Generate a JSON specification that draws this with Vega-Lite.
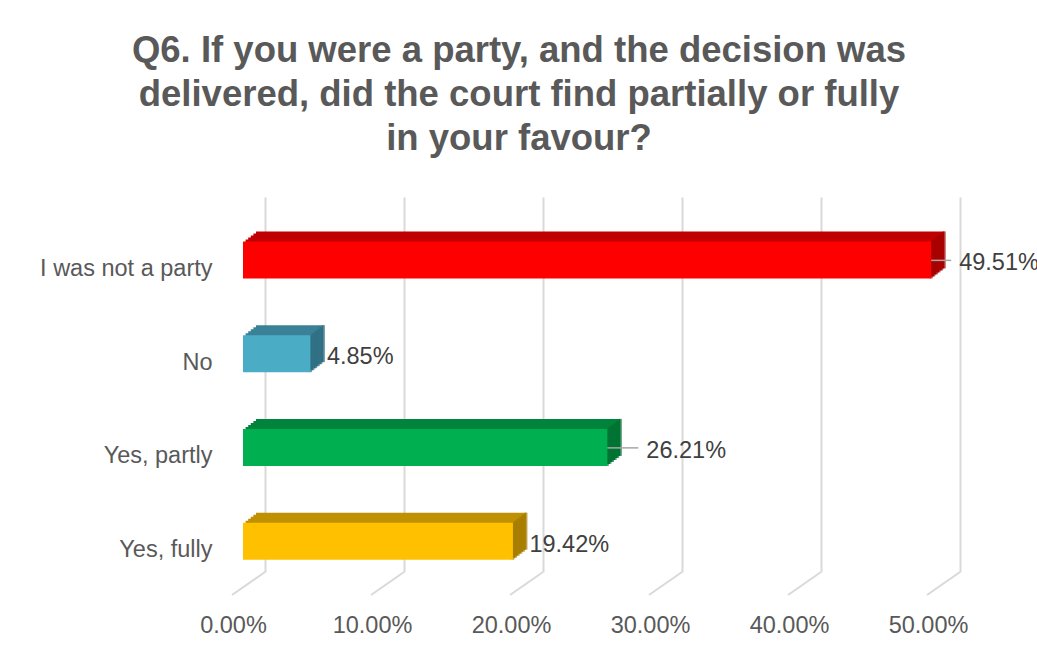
{
  "$schema": "https://vega.github.io/schema/vega-lite/v6.json",
  "width": 695,
  "height": 375,
  "autosize": {"type": "none"},
  "padding": {"left": 265, "top": 197, "right": 77, "bottom": 82},
  "background": "white",
  "config": {"view": {"stroke": null}, "font": "Liberation Sans"},
  "title": {
    "text": ["Q6. If you were a party, and the decision was", "delivered, did the court find partially or fully", "in your favour?"],
    "font": "Liberation Sans",
    "fontSize": 36.5,
    "fontWeight": "bold",
    "color": "#595959",
    "lineHeight": 44,
    "anchor": "middle",
    "offset": 40,
    "dx": -93.5
  },
  "datasets": {
    "answers": [
      {"category": "I was not a party", "value": 0.4951},
      {"category": "No", "value": 0.0485},
      {"category": "Yes, partly", "value": 0.2621},
      {"category": "Yes, fully", "value": 0.1942}
    ],
    "ticks": [{"v": 0}, {"v": 0.1}, {"v": 0.2}, {"v": 0.3}, {"v": 0.4}, {"v": 0.5}]
  },
  "layer": [
    {
      "data": {"name": "ticks"},
      "mark": {"type": "rule", "y2Offset": 23, "x2Offset": -33, "color": "#d9d9d9", "strokeWidth": 2},
      "encoding": {
        "x": {
          "field": "v", "type": "quantitative",
          "scale": {"domain": [0, 0.5], "nice": false},
          "axis": {"title": null, "values": [0, 0.1, 0.2, 0.3, 0.4, 0.5], "format": ".2%", "domain": false, "ticks": false, "grid": true, "gridColor": "#d9d9d9", "gridWidth": 2, "labelFontSize": 23.5, "labelColor": "#595959", "labelOffset": -32, "labelPadding": 41, "labelFlush": false, "labelOverlap": false, "labelFont": "Liberation Sans"}
        },
        "x2": {"field": "v"},
        "y": {"value": "height"},
        "y2": {"value": "height"}
      }
    },
    {
      "data": {"name": "answers"},
      "encoding": {
        "y": {
          "field": "category", "type": "nominal", "sort": null,
          "scale": {"paddingInner": 0, "paddingOuter": 0},
          "axis": {"title": null, "domain": false, "ticks": false, "labelFontSize": 23.5, "labelColor": "#595959", "labelPadding": 53, "labelOffset": 25, "labelLimit": 300, "labelFont": "Liberation Sans"}
        },
        "x": {
          "field": "value", "type": "quantitative",
          "scale": {"domain": [0, 0.5], "nice": false},
          "axis": {"title": null, "values": [0, 0.1, 0.2, 0.3, 0.4, 0.5], "format": ".2%", "domain": false, "ticks": false, "grid": true, "gridColor": "#d9d9d9", "gridWidth": 2, "labelFontSize": 23.5, "labelColor": "#595959", "labelOffset": -32, "labelPadding": 41, "labelFlush": false, "labelOverlap": false, "labelFont": "Liberation Sans"}
        }
      },
      "layer": [
        {"mark": {"type": "bar", "height": 37, "xOffset": -19.4, "x2Offset": -19.4, "yOffset": 14},
         "encoding": {"color": {"field": "category", "type": "nominal", "legend": null, "scale": {"domain": ["I was not a party", "No", "Yes, partly", "Yes, fully"], "range": ["#c00000", "#3a8197", "#00843b", "#bf9000"]}}}},
        {"mark": {"type": "bar", "height": 37, "xOffset": -16.8, "x2Offset": -16.8, "yOffset": 12},
         "encoding": {"color": {"field": "category", "type": "nominal", "legend": null, "scale": {"domain": ["I was not a party", "No", "Yes, partly", "Yes, fully"], "range": ["#c00000", "#3a8197", "#00843b", "#bf9000"]}}}},
        {"mark": {"type": "bar", "height": 37, "xOffset": -14.2, "x2Offset": -14.2, "yOffset": 10},
         "encoding": {"color": {"field": "category", "type": "nominal", "legend": null, "scale": {"domain": ["I was not a party", "No", "Yes, partly", "Yes, fully"], "range": ["#c00000", "#3a8197", "#00843b", "#bf9000"]}}}},
        {"mark": {"type": "bar", "height": 37, "xOffset": -11.6, "x2Offset": -11.6, "yOffset": 8},
         "encoding": {"color": {"field": "category", "type": "nominal", "legend": null, "scale": {"domain": ["I was not a party", "No", "Yes, partly", "Yes, fully"], "range": ["#c00000", "#3a8197", "#00843b", "#bf9000"]}}}},
        {"mark": {"type": "bar", "height": 37, "xOffset": -9, "x2Offset": -9, "yOffset": 6},
         "encoding": {"color": {"field": "category", "type": "nominal", "legend": null, "scale": {"domain": ["I was not a party", "No", "Yes, partly", "Yes, fully"], "range": ["#c00000", "#3a8197", "#00843b", "#bf9000"]}}}},
        {"mark": {"type": "tick", "size": 37, "thickness": 3, "xOffset": -22, "yOffset": 16},
         "encoding": {"color": {"field": "category", "type": "nominal", "legend": null, "scale": {"domain": ["I was not a party", "No", "Yes, partly", "Yes, fully"], "range": ["#a00000", "#2e6b7d", "#006e31", "#a07800"]}}}},
        {"mark": {"type": "tick", "size": 37, "thickness": 3, "xOffset": -19.4, "yOffset": 14},
         "encoding": {"color": {"field": "category", "type": "nominal", "legend": null, "scale": {"domain": ["I was not a party", "No", "Yes, partly", "Yes, fully"], "range": ["#a00000", "#2e6b7d", "#006e31", "#a07800"]}}}},
        {"mark": {"type": "tick", "size": 37, "thickness": 3, "xOffset": -16.8, "yOffset": 12},
         "encoding": {"color": {"field": "category", "type": "nominal", "legend": null, "scale": {"domain": ["I was not a party", "No", "Yes, partly", "Yes, fully"], "range": ["#a00000", "#2e6b7d", "#006e31", "#a07800"]}}}},
        {"mark": {"type": "tick", "size": 37, "thickness": 3, "xOffset": -14.2, "yOffset": 10},
         "encoding": {"color": {"field": "category", "type": "nominal", "legend": null, "scale": {"domain": ["I was not a party", "No", "Yes, partly", "Yes, fully"], "range": ["#a00000", "#2e6b7d", "#006e31", "#a07800"]}}}},
        {"mark": {"type": "tick", "size": 37, "thickness": 3, "xOffset": -11.6, "yOffset": 8},
         "encoding": {"color": {"field": "category", "type": "nominal", "legend": null, "scale": {"domain": ["I was not a party", "No", "Yes, partly", "Yes, fully"], "range": ["#a00000", "#2e6b7d", "#006e31", "#a07800"]}}}},
        {"mark": {"type": "tick", "size": 37, "thickness": 3, "xOffset": -9, "yOffset": 6},
         "encoding": {"color": {"field": "category", "type": "nominal", "legend": null, "scale": {"domain": ["I was not a party", "No", "Yes, partly", "Yes, fully"], "range": ["#a00000", "#2e6b7d", "#006e31", "#a07800"]}}}},
        {"mark": {"type": "bar", "height": 37, "xOffset": -22, "x2Offset": -22, "yOffset": 16},
         "encoding": {"color": {"field": "category", "type": "nominal", "legend": null, "scale": {"domain": ["I was not a party", "No", "Yes, partly", "Yes, fully"], "range": ["#ff0000", "#4bacc6", "#00b050", "#ffc000"]}}}},
        {"transform": [{"filter": "datum.category == 'I was not a party'"}],
         "mark": {"type": "rule", "xOffset": -22, "x2Offset": -2, "yOffset": 16.5, "color": "#a6a6a6", "strokeWidth": 1.5},
         "encoding": {"x2": {"field": "value"}}},
        {"transform": [{"filter": "datum.category == 'Yes, partly'"}],
         "mark": {"type": "rule", "xOffset": -22, "x2Offset": 9, "yOffset": 16.5, "color": "#a6a6a6", "strokeWidth": 1.5},
         "encoding": {"x2": {"field": "value"}}},
        {"transform": [{"filter": "datum.category == 'I was not a party'"}],
         "mark": {"type": "text", "align": "left", "baseline": "middle", "dx": 6, "yOffset": 19.5, "fontSize": 23.5, "color": "#404040", "font": "Liberation Sans"},
         "encoding": {"text": {"field": "value", "format": ".2%"}}},
        {"transform": [{"filter": "datum.category == 'Yes, partly'"}],
         "mark": {"type": "text", "align": "left", "baseline": "middle", "dx": 17, "yOffset": 19.5, "fontSize": 23.5, "color": "#404040", "font": "Liberation Sans"},
         "encoding": {"text": {"field": "value", "format": ".2%"}}},
        {"transform": [{"filter": "datum.category == 'No' || datum.category == 'Yes, fully'"}],
         "mark": {"type": "text", "align": "left", "baseline": "middle", "dx": -5.5, "yOffset": 19.5, "fontSize": 23.5, "color": "#404040", "font": "Liberation Sans"},
         "encoding": {"text": {"field": "value", "format": ".2%"}}}
      ],
      "resolve": {"scale": {"color": "independent"}}
    }
  ]
}
